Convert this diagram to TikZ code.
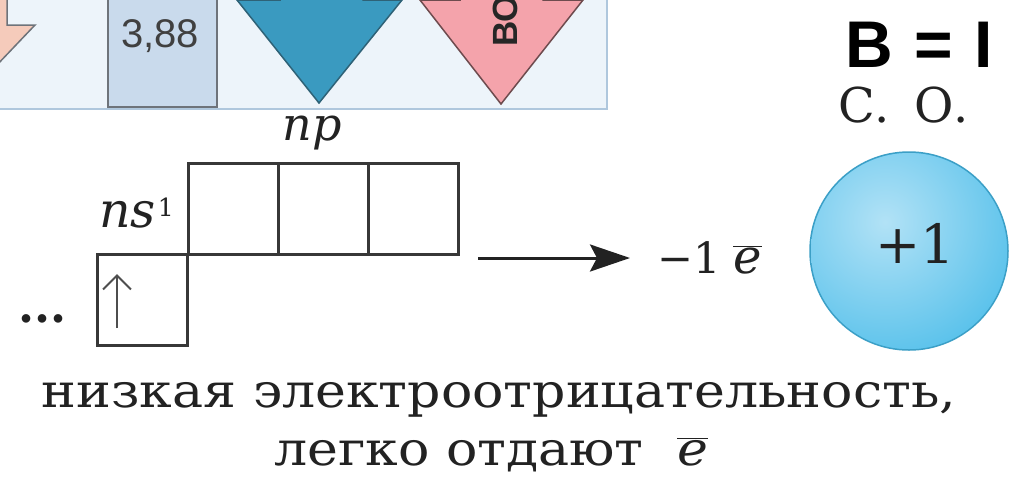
\documentclass[tikz,border=0pt]{standalone}
\usepackage{fontspec}
\usepackage{graphicx}
\setmainfont{DejaVu Serif}
\newfontfamily\arialf{Liberation Sans}
\usetikzlibrary{arrows.meta}
\definecolor{panelbg}{HTML}{EDF4FA}
\definecolor{panelline}{HTML}{AFC7DD}
\definecolor{peach}{HTML}{F5CBBB}
\definecolor{boxfill}{HTML}{C9DAEC}
\definecolor{boxline}{HTML}{6E737A}
\definecolor{bluearr}{HTML}{3A9AC0}
\definecolor{bluearrline}{HTML}{2E6277}
\definecolor{pinkarr}{HTML}{F4A3AB}
\definecolor{pinkline}{HTML}{6E4B4E}
\definecolor{ionin}{HTML}{B2E2F6}
\definecolor{ionout}{HTML}{52BFEA}
\definecolor{ionline}{HTML}{3C9FC6}
\definecolor{ink}{HTML}{222222}
\newcommand{\ebar}{\ensuremath{\overline{\hbox{\itshape e}}}}
\tikzset{
  orb/.style={draw=ink!90, line width=3pt, minimum width=90pt, minimum height=91pt, inner sep=0pt},
  serif/.style={text=ink, inner sep=0pt},
}
\begin{document}
\begin{tikzpicture}[x=1pt,y=-1pt]
\useasboundingbox (0,0) rectangle (1023,480);
\fill[white] (0,0) rectangle (1023,480);
% top panel
\fill[panelbg] (0,0) rectangle (607,109);
\draw[panelline, line width=2pt] (607,-2) -- (607,109) -- (0,109);
% peach arrow (cut off)
\draw[fill=peach, draw=boxline, line width=1.5pt] (-5,-5) -- (7,-5) -- (7,25) -- (35,25) -- (-5,67) -- cycle;
% box 3,88
\node[draw=boxline, fill=boxfill, line width=2pt, minimum width=109pt, minimum height=112pt, inner sep=0pt] (valbox) at (162.5,51) {};
\node[font=\arialf\fontsize{40}{44}\selectfont, text=black!75, anchor=base, inner sep=0pt] (val) at (160,47) {3,88};
% blue arrow
\draw[fill=bluearr, draw=bluearrline, line width=1.5pt] (280,-10) -- (280,0) -- (237,0) -- (319,103) -- (402,0) -- (363,0) -- (363,-10) -- cycle;
% pink arrow
\draw[fill=pinkarr, draw=pinkline, line width=1.5pt] (460,-10) -- (460,0) -- (420,0) -- (501,104) -- (583,0) -- (543,0) -- (543,-10) -- cycle;
\node[font=\arialf\bfseries\fontsize{35}{40}\selectfont, text=black!85, rotate=90, anchor=base west, inner sep=0pt] (vo) at (517,47) {ВО};
% valence
\node[font=\arialf\bfseries\fontsize{66}{70}\selectfont, text=black, anchor=base west, inner sep=0pt] (val2) at (845,67) {В\hspace{0.33em}=\hspace{0.33em}I};
\node[font=\fontsize{48}{52}\selectfont, serif, anchor=base west] (so) at (838,122) {С.\hspace{0.5em}О.};
% ion circle
\node[circle, draw=ionline, line width=1.5pt, fill=ionout, minimum size=198pt, inner sep=0pt] (ion) at (909,251) {};
\begin{scope}
\clip (909,251) circle[radius=98pt];
\shade[inner color=ionin, outer color=ionout] (885,222) circle[radius=150pt];
\end{scope}
\node[font=\fontsize{54}{58}\selectfont, serif] (ox) at (915,243) {+1};
% orbitals
\node[orb] (p1) at (233,208.5) {};
\node[orb] (p2) at (323,208.5) {};
\node[orb] (p3) at (413,208.5) {};
\node[orb] (s1) at (142.5,299.5) {};
\node[font=\fontsize{46}{50}\selectfont\itshape, serif, anchor=base] (nplab) at (312,140) {np};
\node[font=\fontsize{49}{52}\selectfont, serif, anchor=base west] (nslab) at (99,227) {\textit{ns}\kern2pt\raisebox{11pt}{\fontsize{25}{27}\selectfont 1}};
\node[font=\fontsize{46}{50}\selectfont\bfseries, serif, anchor=base west] (dots) at (18,322) {...};
\coordinate (ub) at (117,328);
\coordinate (ut) at (117,274);
\draw[ink!80, line width=2pt, -{Straight Barb[length=14pt, width=28pt, line width=2pt]}] (ub) -- (ut);
% loss arrow
\coordinate (astart) at (478,258);
\coordinate (aend) at (630,258);
\draw[ink, line width=3pt, -{Stealth[length=40pt, width=27pt, inset=7pt]}] (astart) -- (aend);
\node[font=\fontsize{43}{48}\selectfont, serif, anchor=base west] (loss) at (657,273) {−1\hspace{0.3em}{\fontsize{48}{50}\selectfont\ebar}};
% caption
\node[font=\fontsize{47}{52}\selectfont, serif, anchor=base] (cap1) at (499,407) {\scalebox{1.11}[1]{низкая электроотрицательность,}};
\node[font=\fontsize{47}{52}\selectfont, serif, anchor=base] (cap2) at (491,465) {\scalebox{1.11}[1]{легко отдают\ \ \ebar}};
\end{tikzpicture}
\end{document}
